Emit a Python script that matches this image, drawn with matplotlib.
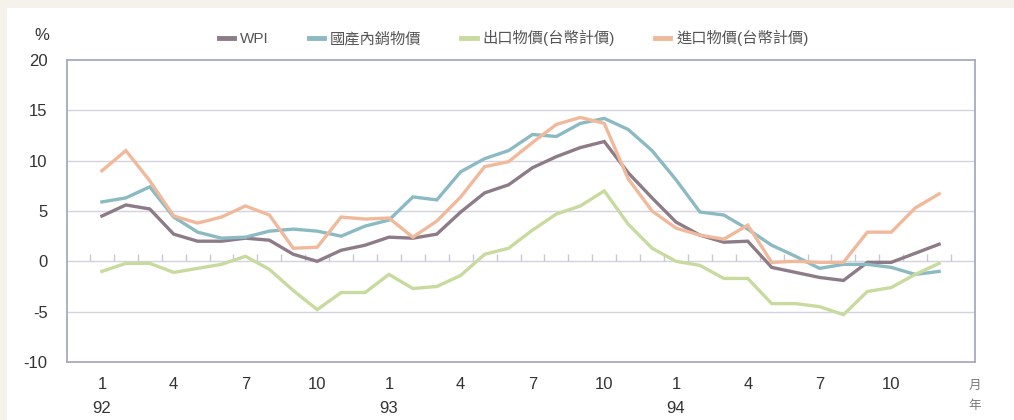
import numpy as np
import matplotlib
matplotlib.use("Agg")
import matplotlib.pyplot as plt
from matplotlib.patches import Rectangle

plt.rcParams['font.family'] = ['Liberation Sans', 'Noto Sans CJK TC', 'DejaVu Sans']

# ---------------------------
# Data: monthly yoy change (%), Jan 92 .. Dec 94
# ---------------------------
wpi = [4.5, 5.6, 5.2, 2.7, 2.0, 2.0, 2.3, 2.1, 0.7, 0.0, 1.1, 1.6,
       2.4, 2.3, 2.7, 4.9, 6.8, 7.6, 9.3, 10.4, 11.3, 11.9, 8.8, 6.3,
       3.9, 2.6, 1.9, 2.0, -0.6, -1.1, -1.6, -1.9, -0.1, -0.1, 0.8, 1.7]
domestic = [5.9, 6.3, 7.4, 4.4, 2.9, 2.3, 2.4, 3.0, 3.2, 3.0, 2.5, 3.5,
            4.1, 6.4, 6.1, 8.9, 10.2, 11.0, 12.6, 12.4, 13.7, 14.2, 13.1, 11.0,
            8.1, 4.9, 4.6, 3.2, 1.6, 0.5, -0.7, -0.3, -0.3, -0.6, -1.3, -1.0]
export = [-1.0, -0.2, -0.2, -1.1, -0.7, -0.3, 0.5, -0.8, -2.9, -4.8, -3.1, -3.1,
          -1.3, -2.7, -2.5, -1.4, 0.7, 1.3, 3.1, 4.7, 5.5, 7.0, 3.7, 1.3,
          0.0, -0.4, -1.7, -1.7, -4.2, -4.2, -4.5, -5.3, -3.0, -2.6, -1.3, -0.2]
imports = [9.0, 11.0, 8.0, 4.5, 3.8, 4.4, 5.5, 4.6, 1.3, 1.4, 4.4, 4.2,
           4.3, 2.4, 4.0, 6.4, 9.4, 9.9, 11.8, 13.6, 14.3, 13.7, 8.2, 5.0,
           3.3, 2.6, 2.2, 3.6, -0.1, 0.0, -0.1, -0.1, 2.9, 2.9, 5.3, 6.7]

series_names = ['WPI', '國產內銷物價', '出口物價(台幣計價)', '進口物價(台幣計價)']
series_colors = ['#8d7b87', '#8cbac2', '#c8da9e', '#f0b99b']

month_ticks = [0, 3, 6, 9, 12, 15, 18, 21, 24, 27, 30, 33]
month_labels = ['1', '4', '7', '10'] * 3
year_pos = [0, 12, 24]
year_labels = ['92', '93', '94']

# ---------------------------
# Figure
# ---------------------------
fig = plt.figure(figsize=(10.14, 4.2), dpi=100, facecolor='#f5f2ec')
fig.patches.append(Rectangle((7 / 1014, 0), 1, 1 - 8 / 420, transform=fig.transFigure,
                             facecolor='white', edgecolor='none', zorder=-10))
ax = fig.add_axes([67 / 1014, 1 - 362 / 420, 908 / 1014, 302 / 420])
ax.set_zorder(2)

x = np.arange(len(wpi))
for vals, name, col in zip([wpi, domestic, export, imports], series_names, series_colors):
    ax.plot(x, vals, color=col, lw=2.4, label=name, solid_joinstyle='miter', zorder=3)

ax.set_xlim(-1.46, 36.5)
ax.set_ylim(-10, 20)
ax.set_yticks(np.arange(-10, 21, 5))
ax.set_yticklabels(['-10', '-5', '0', '5', '10', '15', '20'])
for yv in [-5, 0, 5, 10, 15]:
    ax.axhline(yv, color='#d3d3df', lw=1.0, zorder=1)

# small month ticks on the zero line
ax.vlines(np.arange(-0.5, 36, 1), 0, 0.7, color='#c8c8d6', lw=1.0, zorder=1)

for s in ax.spines.values():
    s.set_color('#a9a9bf')
    s.set_linewidth(1.3)

ax.tick_params(axis='y', length=0, pad=14, labelsize=12, labelcolor='#333333')
ax.set_xticks(month_ticks)
ax.set_xticklabels(month_labels)
ax.tick_params(axis='x', length=0, pad=11, labelsize=12, labelcolor='#333333')

for p, lab in zip(year_pos, year_labels):
    ax.text(p, -0.155, lab, transform=ax.get_xaxis_transform(), ha='center', va='center',
            fontsize=12, color='#333333')
ax.text(36.5, -0.08, '月', transform=ax.get_xaxis_transform(), ha='center', va='center',
        fontsize=9, color='#777777')
ax.text(36.5, -0.145, '年', transform=ax.get_xaxis_transform(), ha='center', va='center',
        fontsize=9, color='#777777')
fig.text(42 / 1014, 1 - 36 / 420, '%', ha='center', va='center', fontsize=12, color='#333333')

leg = ax.legend(loc='center', bbox_to_anchor=(0.492, 1.073), ncol=4, frameon=False,
                handlelength=1.0, handletextpad=0.4, columnspacing=2.6, fontsize=11)
for h in leg.get_lines():
    h.set_linewidth(3.5)
for t in leg.get_texts():
    t.set_color('#555555')

fig.savefig('out.png', dpi=100, facecolor=fig.get_facecolor())
